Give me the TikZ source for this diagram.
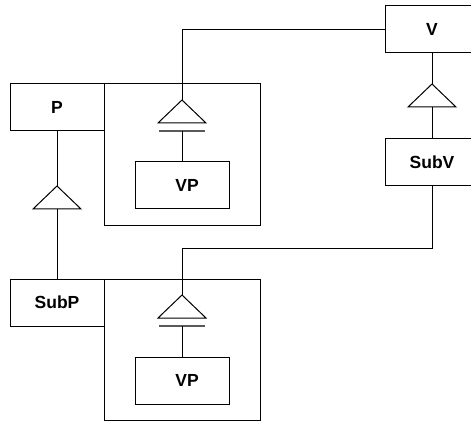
\documentclass[tikz,border=0pt]{standalone}
\usepackage{fontspec}
\setmainfont{Liberation Sans}
\begin{document}
\begin{tikzpicture}[x=1pt,y=-1pt,line width=1pt,
  box/.style={draw, rectangle, minimum width=94pt, minimum height=47pt, inner sep=0pt,
    font=\fontsize{17.5}{20}\selectfont\bfseries},
  cont/.style={draw, rectangle, minimum width=156pt, minimum height=141pt, inner sep=0pt},
  inh/.style={draw, line join=miter},
  bar/.style={draw=black!65, line width=1.6pt}]
\useasboundingbox (0,0) rectangle (471,422);
\begin{scope}
\clip (0,0) rectangle (471,422);
% containers
\node[cont] (C1) at (182,154.5) {};
\node[cont] (C2) at (182,349.5) {};
% class boxes
\node[box] (P) at (57,107.5) {P};
\node[box] (SubP) at (57,302.5) {SubP};
\node[box] (V) at (432,29.5) {V};
\node[box] (SubV) at (432,162) {SubV};
\node[box] (VP1) at (182,185.5) {\hspace*{10pt}VP};
\node[box] (VP2) at (182,380.5) {\hspace*{10pt}VP};
% triangle coordinates
\coordinate (a1) at (182,100); \coordinate (b1) at (182,123);
\coordinate (a2) at (182,295); \coordinate (b2) at (182,318);
\coordinate (a3) at (57,186);  \coordinate (b3) at (57,209);
\coordinate (a4) at (432,84);  \coordinate (b4) at (432,107);
\coordinate (k1) at (182,131); \coordinate (k2) at (182,326);
\coordinate (m2) at (432,248);
% triangles
\foreach \a/\b in {a1/b1,a2/b2,a3/b3,a4/b4}{
  \path[inh] (\a) -- ([xshift=-24pt]\b) -- ([xshift=24pt]\b) -- cycle;
}
% bars
\draw[bar] ([xshift=-23pt]k1) -- ([xshift=23pt]k1);
\draw[bar] ([xshift=-23pt]k2) -- ([xshift=23pt]k2);
% connectors
\draw (V.west) -| (a1);
\draw (k1) -- (VP1.north);
\draw (SubV.south) -- (m2) -| (a2);
\draw (k2) -- (VP2.north);
\draw (P.south) -- (a3);
\draw (b3) -- (SubP.north);
\draw (V.south) -- (a4);
\draw (b4) -- (SubV.north);
\end{scope}
\end{tikzpicture}
\end{document}
